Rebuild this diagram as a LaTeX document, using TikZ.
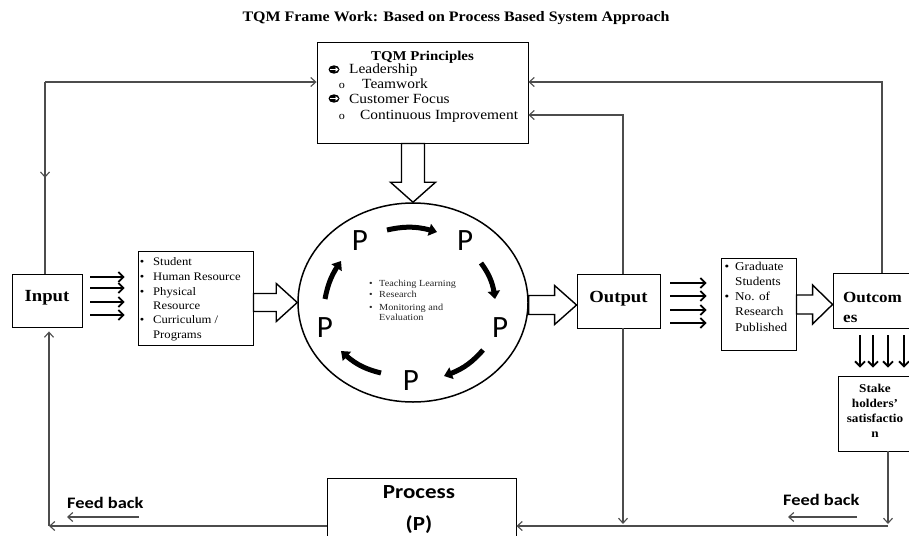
\documentclass[tikz,border=0pt]{standalone}
\usepackage{fontspec}
\setmainfont[FakeStretch=1.1]{Liberation Serif}
\newfontfamily\calb[FakeStretch=1.15]{Carlito}
\newfontfamily\calp{Carlito}
\usetikzlibrary{arrows.meta,calc,bending,shapes.geometric}
\newcommand{\hblk}[5]{\draw[hollow] let \p1=(#1), \p2=(#2) in (\x1,\y2+#3) -- (\x2-#5,\y2+#3) -- (\x2-#5,\y2+#4) -- (\x2,\y2) -- (\x2-#5,\y2-#4) -- (\x2-#5,\y2-#3) -- (\x1,\y2-#3) -- cycle;}
\newcommand{\vblk}[5]{\draw[hollow] let \p1=(#1), \p2=(#2) in (\x2-#3,\y1) -- (\x2-#3,\y2+#5) -- (\x2-#4,\y2+#5) -- (\x2,\y2) -- (\x2+#4,\y2+#5) -- (\x2+#3,\y2+#5) -- (\x2+#3,\y1) -- cycle;}
\newcommand{\arrbullet}[1]{\fill[black] (#1) ellipse[x radius=5.5, y radius=4.2];
  \draw[white, line width=1.3pt, -{Triangle[length=3pt,width=4.5pt]}] ($(#1)+(-4,0)$) -- ($(#1)+(4.5,0)$);}
\tikzset{
 box/.style={draw=black, line width=0.9pt, fill=white, inner sep=0pt},
 conn/.style={draw=black!70, line width=1.1pt, -{Straight Barb[length=5pt,width=9pt]}},
 plain/.style={draw=black!70, line width=1.1pt},
 bundle/.style={line width=2.2pt, -{Straight Barb[length=5pt,width=10pt,line width=1.8pt]}},
 hollow/.style={draw=black, line width=1.4pt, fill=white, line join=miter},
 cycarrow/.style={line width=5pt, -{Triangle[length=8pt,width=12pt]}},
 txt/.style={inner sep=0pt, anchor=base west},
 ctxt/.style={inner sep=0pt, anchor=base},
 Pletter/.style={inner sep=0pt, anchor=base, font=\calp\fontsize{31}{31}\selectfont},
 itemf/.style={font=\fontsize{14}{16}\selectfont},
 listf/.style={font=\fontsize{11.5}{13}\selectfont},
 olistf/.style={font=\fontsize{12}{14}\selectfont},
 smallf/.style={font=\fontsize{9.3}{10}\selectfont, text=black!85},
}
\begin{document}
\begin{tikzpicture}[x=1pt,y=-1pt]
\useasboundingbox (0,0) rectangle (909,535);
\clip (0,0) rectangle (909,535);

% title
\node[ctxt, font=\bfseries\fontsize{14.5}{17}\selectfont] (title) at (456,22) {TQM Frame Work: Based on Process Based System Approach};

% boxes
\node[box, minimum width=211pt, minimum height=101pt] (tqm) at (422.5,92.5) {};
\node[box, minimum width=70pt, minimum height=53pt] (input) at (47,300.5) {};
\node[box, minimum width=115pt, minimum height=94pt] (inlist) at (195.5,298) {};
\node[draw, ellipse, line width=1.5pt, minimum width=230pt, minimum height=199pt, inner sep=0pt] (cyc) at (413,302.5) {};
\node[box, minimum width=83pt, minimum height=54pt] (output) at (618.5,301) {};
\node[box, minimum width=75pt, minimum height=92pt] (outlist) at (758.5,304) {};
\node[box, minimum width=79pt, minimum height=55pt] (outcomes) at (872.5,300.5) {};
\node[box, minimum width=74pt, minimum height=75pt] (stake) at (875,413.5) {};

% TQM texts
\node[ctxt, font=\bfseries\fontsize{13.5}{16}\selectfont] (tqmh) at (422.5,60) {TQM Principles};
\coordinate (b1) at (334,69.5);
\coordinate (b3) at (334,98.5);
\arrbullet{b1}
\arrbullet{b3}
\node[txt, itemf] (t1) at (349,74) {Leadership};
\node[ctxt, font=\fontsize{11}{12}\selectfont] (b2) at (342,88) {o};
\node[txt, itemf] (t2) at (362,88) {Teamwork};
\node[txt, itemf] (t3) at (349,103) {Customer Focus};
\node[ctxt, font=\fontsize{11}{12}\selectfont] (b4) at (342,119) {o};
\node[txt, itemf] (t4) at (360,119) {Continuous Improvement};

% Input / Output / Outcomes labels
\node[ctxt, font=\bfseries\fontsize{17}{20}\selectfont] (inl) at (47,301) {Input};
\node[ctxt, font=\bfseries\fontsize{17}{20}\selectfont] (outl) at (618.5,302) {Output};
\node[txt, font=\bfseries\fontsize{15.5}{18}\selectfont] (oc1) at (843,302) {Outcom};
\node[txt, font=\bfseries\fontsize{15.5}{18}\selectfont] (oc2) at (843,322) {es};

% input list
\foreach \yy/\tx/\bb in {265/Student/1, 280/Human Resource/1, 295/Physical/1, 309/Resource/0, 323/{Curriculum /}/1, 338/Programs/0}{
  \node[txt, listf] at (153,\yy) {\tx};
  \ifnum\bb=1 \node[ctxt, listf] at (142,\yy) {•};\fi
}
% output list
\foreach \yy/\tx/\bb in {270/Graduate/1, 285/Students/0, 300/No. of/1, 315/Research/0, 331/Published/0}{
  \node[txt, olistf] at (735,\yy) {\tx};
  \ifnum\bb=1 \node[ctxt, olistf] at (727,\yy) {•};\fi
}
% stake holders
\foreach \yy/\tx in {392/Stake, 407/holders', 422/satisfactio, 437/n}{
  \node[ctxt, font=\bfseries\fontsize{12}{14}\selectfont] at (875,\yy) {\tx};
}
% ellipse text
\foreach \yy/\tx/\bb in {286/Teaching Learning/1, 297/Research/1, 310/Monitoring and/1, 320/Evaluation/0}{
  \node[txt, smallf] at (379,\yy) {\tx};
  \ifnum\bb=1 \node[ctxt, smallf] at (371,\yy) {•};\fi
}

% P letters
\node[Pletter] (p1) at (360,250) {P};
\node[Pletter] (p2) at (465,250) {P};
\node[Pletter] (p3) at (500,337) {P};
\node[Pletter] (p4) at (411,390) {P};
\node[Pletter] (p5) at (325,337) {P};

% cycle arrows
\draw[cycarrow] (387,230) to[bend left=15] (437,232);
\draw[cycarrow] (481,263) to[bend left=15] (495,299);
\draw[cycarrow] (483,350) to[bend left=15] (444,376);
\draw[cycarrow] (381,373) to[bend left=15] (341,351);
\draw[cycarrow] (325,299) to[bend left=12] (341,261);

% process box
\node[box, minimum width=189pt, minimum height=67pt] (process) at (421.5,511.5) {};
\node[ctxt, font=\calb\bfseries\fontsize{20}{22}\selectfont] (procl) at (419,498) {Process};
\node[ctxt, font=\calb\bfseries\fontsize{20}{22}\selectfont] (procp) at (419,530) {(P)};

% hollow block arrows
\vblk{tqm.south}{cyc.north}{11.5pt}{22.5pt}{20pt}
\hblk{inlist.east}{cyc.west}{9pt}{19pt}{21pt}
\hblk{cyc.east}{$(output.west)+(0,4)$}{9.5pt}{19.5pt}{22pt}
\hblk{outlist.east}{$(outcomes.west)+(0,4)$}{9.5pt}{19.5pt}{20pt}

% bundles of arrows
\foreach \yy in {277,288,302,315}{
  \draw[bundle] ($(input.east |- 0,\yy)+(8,0)$) -- ($(inlist.west |- 0,\yy)+(-13,0)$);
}
\foreach \yy in {283,296,310,323}{
  \draw[bundle] ($(output.east |- 0,\yy)+(10,0)$) -- ($(outlist.west |- 0,\yy)+(-14,0)$);
}
\foreach \xx in {860,873,888,904}{
  \draw[bundle] ($(\xx,0 |- outcomes.south)+(0,7)$) -- ($(\xx,0 |- stake.north)+(0,-8)$);
}

% connectors
\coordinate (tl) at (45,82);
\coordinate (tr) at (882,82);
\coordinate (ir) at (623,115);
\coordinate (bl) at (49,526);
\coordinate (sr) at (888,526);
\draw[conn] (tl) -- (tl -| tqm.west);
\draw[plain] (tl) -- (tl |- input.north);
\draw[conn] (tl) -- ($(tl)!0.5!(tl |- input.north)$);
\draw[conn] (tr |- outcomes.north) -- (tr) -- (tr -| tqm.east);
\draw[conn] (ir |- output.north) -- (ir) -- (ir -| tqm.east);
\draw[conn] (ir |- output.south) -- ($(ir |- sr)+(0,-2)$);
\draw[conn] (stake.south -| sr) -- ($(sr)+(0,-2)$);
\draw[conn] (sr) -- (sr -| process.east);
\draw[conn] (bl -| process.west) -- (bl);
\draw[conn, shorten >=4pt] (bl) -- (bl |- input.south);

% feed back labels
\node[txt, font=\calb\bfseries\fontsize{16}{18}\selectfont] (fb1) at (67,508) {Feed back};
\node[txt, font=\calb\bfseries\fontsize{16}{18}\selectfont] (fb2) at (783,505) {Feed back};
\coordinate (fb1a) at (139,517);
\coordinate (fb1b) at (67,517);
\coordinate (fb2a) at (857,517);
\coordinate (fb2b) at (788,517);
\draw[conn] (fb1a) -- (fb1b);
\draw[conn] (fb2a) -- (fb2b);
\end{tikzpicture}
\end{document}
